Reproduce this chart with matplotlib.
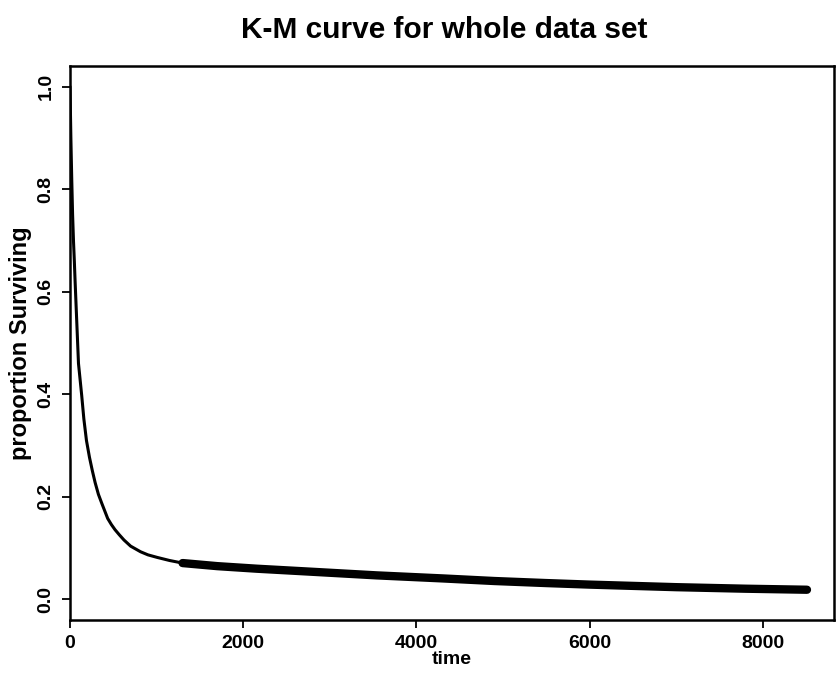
import matplotlib
matplotlib.use("Agg")
import matplotlib.pyplot as plt

plt.rcParams["font.family"] = ["Liberation Sans", "DejaVu Sans"]

# K-M estimate (time, proportion surviving)
km_time = [0, 5, 10, 20, 30, 40, 50, 58, 74, 98, 135, 160, 190, 225, 258,
           290, 328, 368, 435, 478, 520, 570, 623, 700, 815, 900, 1007,
           1150, 1300]
km_surv = [1.0, 0.95, 0.90, 0.82, 0.75, 0.70, 0.66, 0.624, 0.558, 0.460,
           0.398, 0.352, 0.31, 0.277, 0.251, 0.228, 0.205, 0.187, 0.158,
           0.146, 0.136, 0.126, 0.116, 0.104, 0.093, 0.087, 0.082, 0.076,
           0.071]

# censored tail (dense "+" marks merge into a thick band)
cens_time = [1300, 1700, 2157, 2800, 3541, 4310, 4900, 5500, 6000, 7000,
             7800, 8510]
cens_surv = [0.071, 0.065, 0.060, 0.054, 0.047, 0.041, 0.036, 0.032, 0.029,
             0.024, 0.021, 0.019]

xticks = [0, 2000, 4000, 6000, 8000]
yticks = [0.0, 0.2, 0.4, 0.6, 0.8, 1.0]

fig = plt.figure(figsize=(8.37, 6.81), dpi=100)
ax = fig.add_axes([70 / 837, 1 - 620 / 681, (834 - 70) / 837, (620 - 66) / 681])

ax.plot(km_time, km_surv, color="black", lw=2.2, solid_capstyle="round",
        solid_joinstyle="round")
ax.plot(cens_time, cens_surv, color="black", lw=6.0, solid_capstyle="round",
        solid_joinstyle="round")

ax.set_xlim(0, 8822)
ax.set_ylim(-0.04, 1.04)
ax.set_xticks(xticks)
ax.set_xticklabels([str(v) for v in xticks], fontsize=14, fontweight="bold")
ax.set_yticks(yticks)
ax.set_yticklabels(["%.1f" % v for v in yticks], fontsize=14,
                   fontweight="bold", rotation=90, va="center")
ax.tick_params(direction="out", length=6, width=1.3, color="black", pad=5)
for sp in ax.spines.values():
    sp.set_linewidth(1.8)

ax.set_xlabel("time", fontsize=14, fontweight="bold", labelpad=-1)
ax.set_ylabel("proportion Surviving", fontsize=17, fontweight="bold",
              labelpad=4)
ax.set_title("K-M curve for whole data set", fontsize=21.5, fontweight="bold",
             pad=20, x=0.49)

fig.savefig("out.png", dpi=100)
